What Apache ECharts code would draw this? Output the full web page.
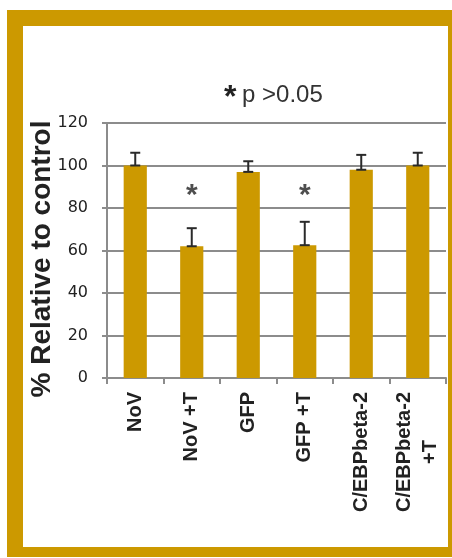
<!DOCTYPE html>
<html>
<head>
<meta charset="utf-8">
<script src="https://cdn.jsdelivr.net/npm/echarts@6/dist/echarts.min.js"></script>
<style>
  html, body { margin: 0; padding: 0; background: #fff; }
  #frame {
    position: absolute; left: 7px; top: 10px; width: 445px; height: 547px;
    box-sizing: border-box; border-style: solid; border-color: #cc9900;
    border-width: 16px 4px 10px 16px; background: #fff;
  }
  #chart { position: absolute; left: 0; top: 0; width: 452px; height: 558px; }
</style>
</head>
<body>
<div id="frame"></div>
<div id="chart"></div>
<script>
// data
var categories = ['NoV', 'NoV +T', 'GFP', 'GFP +T', 'C/EBPbeta-2', 'C/EBPbeta-2\n+T'];
var values = [100, 62, 97, 62.5, 98, 100];
var errors = [6, 8.5, 5, 11, 7, 6];
var starLevel = ['-', 86, '-', 86, '-', '-'];   // where the * marks sit
var yTicks = [0, 20, 40, 60, 80, 100, 120];

var gold = '#cc9900';
var grey = '#8c8c8c';

var chart = echarts.init(document.getElementById('chart'));

var errData = values.map(function (v, i) { return [i, v, errors[i]]; });

var option = {
  animation: false,
  title: [
    {
      text: '*', left: 219, top: 77,
      textStyle: { fontFamily: 'Liberation Sans', fontSize: 32, fontWeight: 'bold', color: '#222' }
    },
    {
      text: 'p >0.05', left: 237, top: 78,
      textStyle: { fontFamily: 'Liberation Sans', fontSize: 24, fontWeight: 'normal', color: '#333' }
    }
  ],
  grid: { left: 107, right: 6, top: 123, bottom: 180 },
  xAxis: {
    type: 'category',
    data: categories,
    boundaryGap: true,
    axisLine: { lineStyle: { color: grey, width: 2 } },
    axisTick: { show: true, length: 6, lineStyle: { color: grey, width: 2 } },
    axisLabel: {
      rotate: 90,
      margin: 14,
      interval: 0,
      formatter: function (v) {
        return v.split('\n').map(function (s) { return '{c|' + s + '}'; }).join('\n');
      },
      rich: {
        c: { align: 'center', fontFamily: 'Liberation Sans', fontSize: 20, fontWeight: 'bold', color: '#222', lineHeight: 26 }
      }
    }
  },
  yAxis: {
    type: 'value',
    min: yTicks[0],
    max: yTicks[yTicks.length - 1],
    interval: yTicks[1] - yTicks[0],
    name: '% Relative to control',
    nameLocation: 'middle',
    nameRotate: 90,
    nameGap: 51,
    nameMoveOverlap: false,
    nameTextStyle: { fontFamily: 'Liberation Sans', fontSize: 28, fontWeight: 'bold', color: '#222', padding: [0, 17, 0, 0] },
    axisLine: { show: true, lineStyle: { color: grey, width: 2 } },
    axisTick: { show: true, length: 5, lineStyle: { color: grey, width: 2 } },
    splitLine: { show: true, lineStyle: { color: grey, width: 2 } },
    axisLabel: { margin: 19, fontFamily: 'DejaVu Sans', fontSize: 16, color: '#222' }
  },
  series: [
    {
      type: 'bar',
      data: values,
      barWidth: '41%',
      itemStyle: { color: gold }
    },
    {
      type: 'custom',
      data: errData,
      renderItem: function (params, api) {
        var i = api.value(0), v = api.value(1), e = api.value(2);
        var lo = api.coord([i, v]);
        var hi = api.coord([i, v + e]);
        var w = 5;
        var st = { stroke: '#2a2a2a', lineWidth: 2 };
        return {
          type: 'group',
          children: [
            { type: 'line', shape: { x1: lo[0], y1: lo[1], x2: hi[0], y2: hi[1] }, style: st },
            { type: 'line', shape: { x1: hi[0] - w, y1: hi[1], x2: hi[0] + w, y2: hi[1] }, style: st },
            { type: 'line', shape: { x1: lo[0] - w, y1: lo[1], x2: lo[0] + w, y2: lo[1] }, style: st }
          ]
        };
      },
      z: 3
    },
    {
      type: 'scatter',
      data: starLevel,
      symbolSize: 0,
      label: {
        show: true,
        position: 'inside',
        formatter: '*',
        fontFamily: 'Liberation Sans',
        fontSize: 30,
        fontWeight: 'bold',
        color: '#222'
      },
      z: 4
    }
  ]
};

chart.setOption(option);
</script>
</body>
</html>
